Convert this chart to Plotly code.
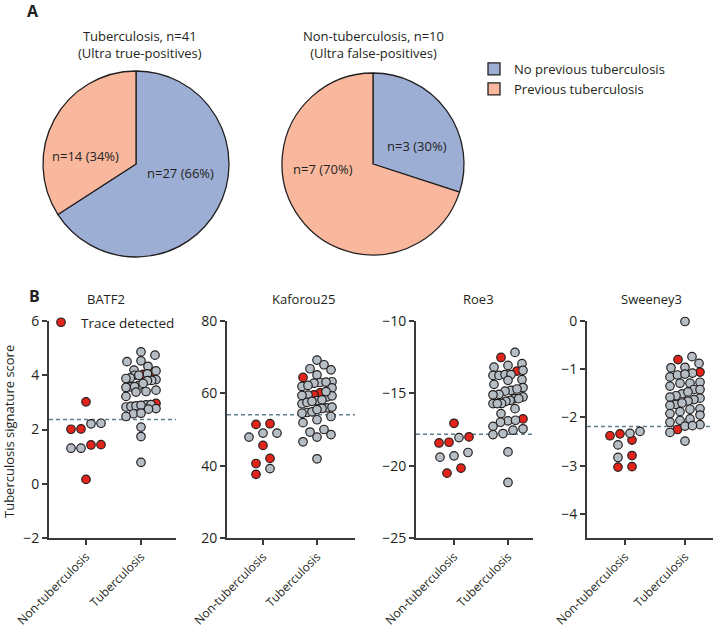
import plotly.graph_objects as go

# ---------------- data ----------------
pie_labels = ["No previous tuberculosis", "Previous tuberculosis"]
pie_colors = ["#9DAED5", "#F9B89E"]
tb_pie_counts = [27, 14]
nontb_pie_counts = [3, 7]
tb_pie_text = ["n=27 (66%)", "n=14 (34%)"]
nontb_pie_text = ["n=3 (30%)", "n=7 (70%)"]
tb_pie_title = "Tuberculosis, n=41<br>(Ultra true-positives)"
nontb_pie_title = "Non-tuberculosis, n=10<br>(Ultra false-positives)"

signatures = ["BATF2", "Kaforou25", "Roe3", "Sweeney3"]
group_labels = ["Non-tuberculosis", "Tuberculosis"]
thresholds = [2.37, 54.1, -17.83, -2.19]
y_ranges = [[-2, 6], [20, 80], [-25, -10], [-4.5, 0]]
y_tickvals = [[-2, 0, 2, 4, 6], [20, 40, 60, 80], [-25, -20, -15, -10], [-4, -3, -2, -1, 0]]

# "trace" = trace detected (red), "other" = grey
batf2_nontb_trace = [3.02, 2.01, 2.02, 1.44, 1.43, 0.16]
batf2_nontb_other = [2.23, 2.21, 1.31, 1.31]
batf2_tb_trace = [4.12, 4.03, 2.96]
batf2_tb_other = [4.86, 4.74, 4.53, 4.50, 4.33, 4.19, 4.16, 4.00, 4.00, 4.05, 3.90, 3.88, 3.84,
                  3.81, 3.80, 3.63, 3.57, 3.58, 3.55, 3.45, 3.38, 3.40, 3.22, 2.91, 2.83, 2.85,
                  2.87, 2.89, 2.92, 2.77, 2.75, 2.58, 2.60, 2.48, 2.09, 1.74, 0.79, 3.70]

kaforou_nontb_trace = [51.4, 51.6, 45.6, 40.6, 42.0, 37.6]
kaforou_nontb_other = [47.9, 49.0, 49.0, 39.2]
kaforou_tb_trace = [64.4, 60.1, 59.6]
kaforou_tb_other = [69.2, 67.9, 66.8, 66.5, 65.1, 63.2, 63.0, 62.8, 63.1, 61.9, 61.5, 59.0, 59.3,
                    59.5, 59.4, 58.0, 58.2, 57.1, 57.5, 56.0, 55.8, 56.2, 54.7, 54.9, 54.5, 53.6,
                    52.7, 51.9, 49.3, 46.6, 48.6, 50.0, 47.9, 41.9, 60.5, 57.8, 55.5, 62.2]

roe_nontb_trace = [-17.07, -18.01, -18.43, -18.38, -20.17, -20.52]
roe_nontb_other = [-18.06, -19.09, -19.41, -19.32]
roe_tb_trace = [-12.52, -13.46, -16.77]
roe_tb_other = [-12.17, -12.95, -13.07, -13.19, -13.41, -13.76, -13.76, -13.70, -13.70, -14.05,
                -14.10, -14.38, -14.60, -14.79, -14.70, -14.85, -15.07, -15.10, -15.25, -15.37,
                -15.37, -15.48, -15.55, -15.70, -15.71, -15.71, -16.06, -16.40, -16.90, -16.86,
                -17.00, -17.28, -17.55, -17.45, -17.78, -17.85, -19.05, -21.16]

sweeney_nontb_trace = [-2.38, -2.34, -2.47, -2.79, -3.03, -3.02]
sweeney_nontb_other = [-2.33, -2.29, -2.57, -2.83]
sweeney_tb_trace = [-0.80, -1.06, -2.25]
sweeney_tb_other = [-0.01, -0.74, -0.88, -0.96, -0.97, -1.08, -1.16, -1.12, -1.10, -1.29, -1.27,
                    -1.29, -1.35, -1.42, -1.42, -1.51, -1.55, -1.60, -1.58, -1.63, -1.66, -1.73,
                    -1.70, -1.75, -1.82, -1.83, -1.92, -1.88, -1.95, -2.03, -2.06, -2.10, -2.15,
                    -2.18, -2.17, -2.31, -2.49, -1.47]

panel_data = [
    [(batf2_nontb_trace, batf2_nontb_other), (batf2_tb_trace, batf2_tb_other)],
    [(kaforou_nontb_trace, kaforou_nontb_other), (kaforou_tb_trace, kaforou_tb_other)],
    [(roe_nontb_trace, roe_nontb_other), (roe_tb_trace, roe_tb_other)],
    [(sweeney_nontb_trace, sweeney_nontb_other), (sweeney_tb_trace, sweeney_tb_other)],
]

# ---------------- layout constants (pixels) ----------------
W, H = 713, 627
FONT = "Open Sans"
TXT = "#231F20"
AXC = "#3A3A3A"
RED = "#E3241B"
GREY = "#B6BEC5"
axis_left = [49, 227, 416, 587]
axis_right = [176, 355, 533, 713]
cat0 = [86, 263, 454, 625]
cat1 = [141, 317, 508, 685]
plot_top, plot_bottom = 321, 538


def px(x):
    return x / W


def py(y):
    return 1 - y / H


def row_offsets(values, unit_px, row_h=8.0, max_w=30.0, max_step=14.0):
    """Scatter-dot layout: bin sorted values into rows, spread each row symmetrically."""
    order = sorted(range(len(values)), key=lambda i: values[i])
    offs = [0.0] * len(values)
    rows, cur, start = [], [], None
    for i in order:
        v = values[i]
        if cur and (v - start) * unit_px < row_h:
            cur.append(i)
        else:
            if cur:
                rows.append(cur)
            cur, start = [i], v
    if cur:
        rows.append(cur)
    for row in rows:
        n = len(row)
        step = min(max_step, max_w / (n - 1)) if n > 1 else 0
        for k, i in enumerate(row):
            offs[i] = (k - (n - 1) / 2) * step
    return offs


fig = go.Figure()

# ---------------- pies ----------------
fig.add_trace(go.Pie(labels=pie_labels, values=tb_pie_counts, sort=False, direction="clockwise",
                     marker=dict(colors=pie_colors, line=dict(color=TXT, width=1.3)),
                     textinfo="none", hoverinfo="label+value", legend="legend",
                     domain=dict(x=[px(43), px(229)], y=[py(257), py(71)])))
fig.add_trace(go.Pie(labels=pie_labels, values=nontb_pie_counts, sort=False, direction="clockwise",
                     marker=dict(colors=pie_colors, line=dict(color=TXT, width=1.3)),
                     textinfo="none", hoverinfo="label+value", legend="legend",
                     domain=dict(x=[px(282), px(464)], y=[py(255), py(73)])))

annotations = []


def ann(text, x, y, size=13, bold=False, angle=0, xanchor="center"):
    annotations.append(dict(text=f"<b>{text}</b>" if bold else text, x=px(x), y=py(y),
                            xref="paper", yref="paper", showarrow=False, textangle=angle,
                            xanchor=xanchor, yanchor="middle",
                            font=dict(family=FONT, size=size, color=TXT)))


ann("A", 33, 11, size=16, bold=True)
ann("B", 34, 296, size=16, bold=True)
ann(tb_pie_title, 140, 44)
ann(nontb_pie_title, 373, 44)
ann(tb_pie_text[0], 180, 173)
ann(tb_pie_text[1], 85, 156)
ann(nontb_pie_text[0], 417, 146)
ann(nontb_pie_text[1], 323, 169)
ann("Tuberculosis signature score", 9, 432, angle=-90)
title_x = [106, 303, 479, 651]
for s, tx in zip(signatures, title_x):
    ann(s, tx, 299)

# ---------------- scatter panels ----------------
shapes = []
for p in range(4):
    sfx = "" if p == 0 else str(p + 1)
    unit_x = cat1[p] - cat0[p]
    xr = [-(cat0[p] - axis_left[p]) / unit_x, 1 + (axis_right[p] - cat1[p]) / unit_x]
    yr = y_ranges[p]
    unit_y = (plot_bottom - plot_top) / (yr[1] - yr[0])
    for g, (reds, greys) in enumerate(panel_data[p]):
        vals = list(reds) + list(greys)
        offs = row_offsets(vals, unit_y)
        xs = [g + o / unit_x for o in offs]
        nr = len(reds)
        fig.add_trace(go.Scatter(x=xs[:nr], y=vals[:nr], mode="markers", xaxis="x" + sfx,
                                 yaxis="y" + sfx, name="Trace detected", cliponaxis=False,
                                 showlegend=(p == 0 and g == 0), legend="legend2",
                                 marker=dict(size=8.5, color=RED, line=dict(color=TXT, width=1.2))))
        fig.add_trace(go.Scatter(x=xs[nr:], y=vals[nr:], mode="markers", xaxis="x" + sfx,
                                 yaxis="y" + sfx, showlegend=False, cliponaxis=False,
                                 marker=dict(size=8.5, color=GREY, line=dict(color=TXT, width=1.2))))
    fig.update_layout(**{
        "xaxis" + sfx: dict(domain=[px(axis_left[p]), px(axis_right[p])], range=xr,
                            anchor="y" + sfx, tickvals=[0, 1], ticktext=group_labels,
                            tickangle=-45, ticks="outside", ticklen=5, tickwidth=1.6,
                            tickcolor=AXC, showline=True, linewidth=2, linecolor=AXC,
                            showgrid=False, zeroline=False, automargin=False,
                            tickfont=dict(family=FONT, size=12, color=TXT)),
        "yaxis" + sfx: dict(domain=[py(plot_bottom), py(plot_top)], range=yr,
                            anchor="x" + sfx, tickvals=y_tickvals[p], ticks="outside",
                            ticklen=5, tickwidth=1.6, tickcolor=AXC, showline=True,
                            linewidth=2, linecolor=AXC, showgrid=False, zeroline=False,
                            automargin=False,
                            tickfont=dict(family=FONT, size=14, color=TXT)),
    })
    shapes.append(dict(type="line", xref=f"x{sfx} domain", yref="y" + sfx, x0=0, x1=1,
                       y0=thresholds[p], y1=thresholds[p], layer="below",
                       line=dict(color="#5F7F8E", width=1.5, dash="4px,3px")))

fig.update_layout(
    width=W, height=H, autosize=False,
    margin=dict(l=0, r=0, t=0, b=0, autoexpand=False),
    paper_bgcolor="white", plot_bgcolor="rgba(0,0,0,0)",
    font=dict(family=FONT, size=13, color=TXT),
    annotations=annotations, shapes=shapes,
    legend=dict(x=px(474), y=py(54), xanchor="left", yanchor="top",
                bgcolor="rgba(0,0,0,0)", font=dict(family=FONT, size=13, color=TXT),
                tracegroupgap=0),
    legend2=dict(x=px(41), y=py(307), xanchor="left", yanchor="top",
                 bgcolor="rgba(0,0,0,0)", font=dict(family=FONT, size=13.5, color=TXT)),
)

fig.write_html("out.html", config={"displayModeBar": False},
               post_script="document.body.style.margin='0px';document.body.style.overflow='hidden';")
